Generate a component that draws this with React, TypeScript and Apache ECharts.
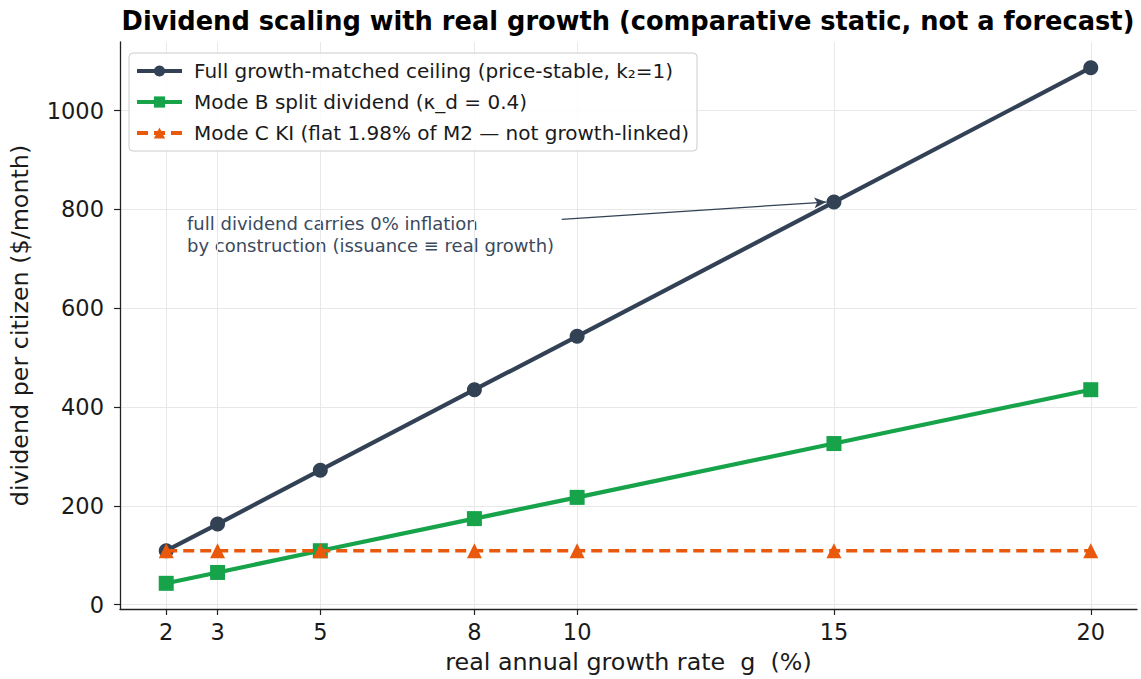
import React, { useEffect, useRef } from "react";
import * as echarts from "echarts";

const growthRates = [2, 3, 5, 8, 10, 15, 20];
const fullCeiling = [109, 163, 272, 435, 543, 815, 1087];
const modeB = [43, 65, 109, 174, 217, 326, 435];
const modeC = [109, 109, 109, 109, 109, 109, 109];
const yTicks = [0, 200, 400, 600, 800, 1000];

const seriesNames = [
  "Full growth-matched ceiling (price-stable, k\u2082=1)",
  "Mode B split dividend (\u03ba_d = 0.4)",
  "Mode C KI (flat 1.98% of M2 \u2014 not growth-linked)",
];

const FONT = "DejaVu Sans";
const NAVY = "#334155";
const GREEN = "#16a34a";
const ORANGE = "#ea580c";

export default function App() {
  const ref = useRef<HTMLDivElement>(null);
  useEffect(() => {
    if (!ref.current) return;
    const chart = echarts.init(ref.current, null, { renderer: "svg" });
    const pair = (ys: number[]) => growthRates.map((g, i) => [g, ys[i]]);
    chart.setOption({
      animation: false,
      backgroundColor: "#ffffff",
      textStyle: { fontFamily: FONT },
      grid: { left: 120, right: 4, top: 42, bottom: 70 },
      legend: {
        orient: "vertical",
        left: 129,
        top: 53,
        padding: [7, 8, 7, 6],
        itemWidth: 45,
        itemHeight: 14,
        itemGap: 9,
        backgroundColor: "rgba(255,255,255,0.85)",
        borderColor: "#cccccc",
        borderWidth: 1,
        borderRadius: 4,
        lineStyle: { width: 4 },
        textStyle: { fontFamily: FONT, fontSize: 20, color: "#1a1a1a", lineHeight: 22, padding: [0, 0, 0, 7] },
        data: seriesNames,
      },
      xAxis: {
        type: "value",
        min: 1.1,
        max: 20.9,
        name: "real annual growth rate  g  (%)",
        nameLocation: "middle",
        nameGap: 41,
        nameTextStyle: { fontFamily: FONT, fontSize: 23.8, color: "#1a1a1a" },
        axisLine: { show: true, onZero: false, lineStyle: { color: "#222", width: 1.3 } },
        axisTick: { show: true, length: 6, customValues: growthRates, lineStyle: { color: "#222", width: 1.2 } },
        axisLabel: { customValues: growthRates, margin: 11, fontFamily: FONT, fontSize: 22.5, color: "#1a1a1a" },
        splitLine: { show: true, lineStyle: { color: "#e8e8e8", width: 1 } },
      },
      yAxis: {
        type: "value",
        min: -9,
        max: 1139,
        name: "dividend per citizen ($/month)",
        nameLocation: "middle",
        nameGap: 88,
        nameTextStyle: { fontFamily: FONT, fontSize: 23.8, color: "#1a1a1a" },
        axisLine: { show: true, onZero: false, lineStyle: { color: "#222", width: 1.3 } },
        axisTick: { show: true, length: 6, customValues: yTicks, lineStyle: { color: "#222", width: 1.2 } },
        axisLabel: {
          customValues: yTicks,
          margin: 16,
          fontFamily: FONT,
          fontSize: 22.5,
          color: "#1a1a1a",
          formatter: (v: number) => String(v),
        },
        splitLine: { show: true, lineStyle: { color: "#e8e8e8", width: 1 } },
      },
      graphic: [
        {
          type: "text",
          x: 628,
          y: 8,
          style: {
            text: "Dividend scaling with real growth (comparative static, not a forecast)",
            fontFamily: FONT,
            fontSize: 25.7,
            fontWeight: "bold",
            fill: "#000",
            textAlign: "center",
          },
        },
        {
          type: "text",
          x: 187,
          y: 212,
          style: {
            text: "full dividend carries 0% inflation\nby construction (issuance \u2261 real growth)",
            fontFamily: FONT,
            fontSize: 18,
            lineHeight: 22,
            fill: "#3b4a5e",
          },
        },
      ],
      series: [
        {
          name: seriesNames[0],
          type: "line",
          data: pair(fullCeiling),
          symbol: "circle",
          symbolSize: 15,
          z: 3,
          lineStyle: { color: NAVY, width: 4.2 },
          itemStyle: { color: NAVY },
          markLine: {
            silent: true,
            symbol: ["none", "arrow"],
            symbolSize: [8, 12],
            label: { show: false },
            lineStyle: { color: NAVY, width: 1.3, type: "solid" },
            data: [[{ coord: [9.7, 780] }, { coord: [14.85, 815] }]],
          },
        },
        {
          name: seriesNames[1],
          type: "line",
          data: pair(modeB),
          symbol: "rect",
          symbolSize: 15,
          z: 4,
          lineStyle: { color: GREEN, width: 4.2 },
          itemStyle: { color: GREEN },
        },
        {
          name: seriesNames[2],
          type: "line",
          data: pair(modeC),
          symbol: "triangle",
          symbolSize: 15,
          z: 5,
          lineStyle: { color: ORANGE, width: 3.4, type: [11, 6] },
          itemStyle: { color: ORANGE },
        },
      ],
    });
    return () => chart.dispose();
  }, []);
  return <div ref={ref} style={{ width: 1141, height: 679, position: "absolute", left: 0, top: 0 }} />;
}
